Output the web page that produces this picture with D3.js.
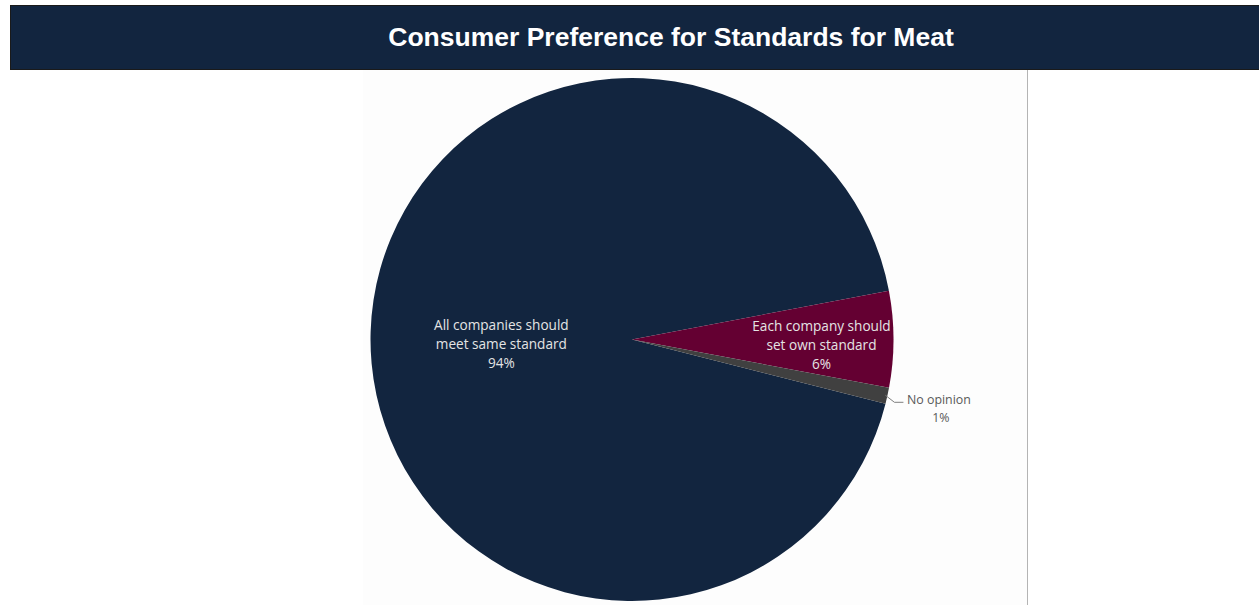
<!DOCTYPE html>
<html>
<head>
<meta charset="utf-8">
<script src="https://cdn.jsdelivr.net/npm/d3@7"></script>
<style>
  html, body { margin: 0; padding: 0; background: #ffffff; }
  svg { display: block; }
</style>
</head>
<body>
<svg id="chart" width="1259" height="605"></svg>
<script>
// Survey answers and their shares (percent)
const categories = [
  "All companies should meet same standard",
  "Each company should set own standard",
  "No opinion"
];
const labelLines = [
  ["All companies should", "meet same standard"],
  ["Each company should", "set own standard"],
  ["No opinion"]
];
const shares = [94, 6, 1];
const colors = ["#12253f", "#640032", "#404040"];

const title = "Consumer Preference for Standards for Meat";

const svg = d3.select("#chart");
const W = 1259, H = 605;

// Title banner
svg.append("rect")
  .attr("x", 10.5).attr("y", 5.5)
  .attr("width", W).attr("height", 64)
  .attr("fill", "#12253f")
  .attr("stroke", "#1a1a1a").attr("stroke-width", 1);
svg.append("text")
  .attr("x", 671).attr("y", 39)
  .attr("text-anchor", "middle").attr("dominant-baseline", "middle")
  .attr("fill", "#ffffff")
  .style("font-family", "Liberation Sans, Arial, sans-serif")
  .style("font-weight", "bold").style("font-size", "26.5px")
  .text(title);

// Chart panel
svg.append("rect")
  .attr("x", 363).attr("y", 70)
  .attr("width", 1027 - 363).attr("height", H - 70)
  .attr("fill", "#fdfdfd");
svg.append("line")
  .attr("x1", 1027.5).attr("x2", 1027.5)
  .attr("y1", 70).attr("y2", H)
  .attr("stroke", "#b4b4b4").attr("stroke-width", 1);

const cx = 632, cy = 339.5, R = 261.5;
const startDeg = 104.2;

const pie = d3.pie()
  .sort(null)
  .value(d => d)
  .startAngle(startDeg * Math.PI / 180)
  .endAngle((startDeg + 360) * Math.PI / 180);

const arcs = pie(shares);
const arc = d3.arc().innerRadius(0).outerRadius(R);

const g = svg.append("g").attr("transform", `translate(${cx},${cy})`);

g.selectAll("path.slice")
  .data(arcs)
  .join("path")
  .attr("class", "slice")
  .attr("d", arc)
  .attr("fill", (d, i) => colors[i])
  .attr("stroke", "none");

const font = "Open Sans, Liberation Sans, sans-serif";
const lineH = 19;

// Label placement per slice: radius fraction for inside labels, null for outside
const labelRadius = [0.5, 0.725, null];
const labelAngleShift = [-0.065, 0.032, 0];

arcs.forEach((d, i) => {
  const pctText = d3.format(".0f")(shares[i]) + "%";
  const lines = labelLines[i].concat([pctText]);
  if (labelRadius[i] !== null) {
    const mid = (d.startAngle + d.endAngle) / 2 + labelAngleShift[i];
    const r = R * labelRadius[i];
    const lx = Math.sin(mid) * r, ly = -Math.cos(mid) * r;
    const t = g.append("text")
      .attr("text-anchor", "middle")
      .attr("fill", "#e4e4e4")
      .style("font-family", font).style("font-size", "13.6px");
    lines.forEach((ln, k) => {
      t.append("tspan")
        .attr("x", lx)
        .attr("y", ly + (k - (lines.length - 1) / 2) * lineH + 5)
        .text(ln);
    });
  } else {
    // outside label with leader line
    const mid = (d.startAngle + d.endAngle) / 2;
    const p0 = [Math.sin(mid) * (R - 2), -Math.cos(mid) * (R - 2)];
    const p1 = [p0[0] + 9, p0[1] + 7];
    const p2 = [p1[0] + 9, p1[1]];
    g.append("polyline")
      .attr("points", [p0, p1, p2].map(p => p.join(",")).join(" "))
      .attr("fill", "none").attr("stroke", "#7f7f7f").attr("stroke-width", 1);
    const lx = p2[0] + 35.5;
    const t = g.append("text")
      .attr("text-anchor", "middle")
      .attr("fill", "#595959")
      .style("font-family", font).style("font-size", "12.4px");
    lines.forEach((ln, k) => {
      t.append("tspan")
        .attr("x", lx + (k === 0 ? 0 : 2))
        .attr("y", p2[1] + k * 18 + 2)
        .text(ln);
    });
  }
});
</script>
</body>
</html>
